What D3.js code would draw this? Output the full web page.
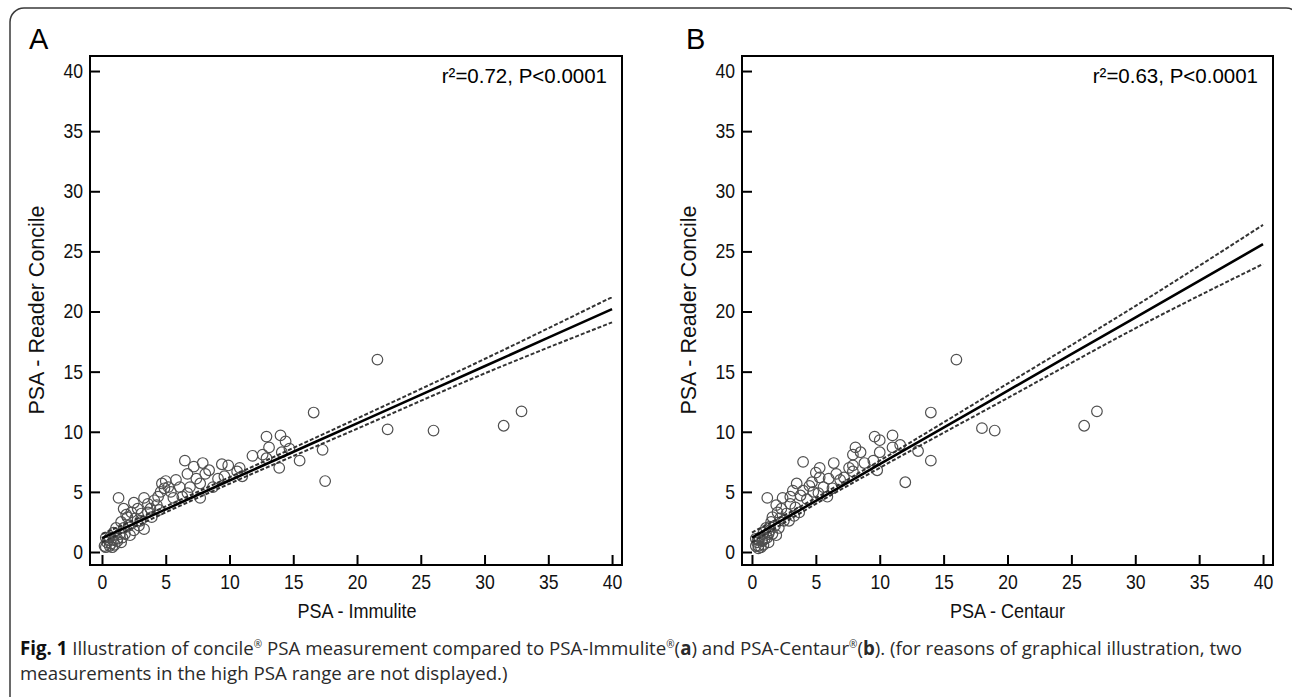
<!DOCTYPE html>
<html><head><meta charset="utf-8">
<script src="https://cdn.jsdelivr.net/npm/d3@7"></script>
<style>
html,body{margin:0;padding:0;background:#fff;}
svg{display:block;}
.tk text{font-family:"Liberation Sans",Arial,sans-serif;}
</style></head>
<body>
<svg id="chart" width="1292" height="697"></svg>
<script>
// ---------- data ----------
const xTicks = [0,5,10,15,20,25,30,35,40];
const yTicks = [0,5,10,15,20,25,30,35,40];
const panelLabels = ["A","B"];
const xTitles = ["PSA - Immulite","PSA - Centaur"];
const yTitle = "PSA - Reader Concile";
const statTexts = ["r\u00B2=0.72, P<0.0001","r\u00B2=0.63, P<0.0001"];

// Panel A: PSA-Immulite (x) vs Reader Concile (y)
const pointsA = [
 [21.6,16.0],[22.4,10.2],[26.0,10.1],[31.5,10.5],[32.9,11.7],[16.6,11.6],[17.3,8.5],[17.5,5.9],
 [15.5,7.6],[14.0,9.7],[14.4,9.2],[12.9,9.6],[13.1,8.7],[11.8,8.0],[12.6,8.1],[14.1,8.3],[14.7,8.6],
 [12.9,7.8],[13.9,7.0],[10.8,7.0],[9.9,7.2],[11.0,6.3],[10.6,6.7],
 [6.5,7.6],[7.9,7.4],[7.2,7.1],[6.7,6.5],[8.1,6.5],[5.8,6.0],[4.7,5.7],[5.2,5.4],[6.1,5.4],[6.9,5.4],
 [7.7,5.7],[9.1,6.1],[4.6,5.0],[5.4,5.0],[6.7,4.9],[7.7,4.5],[8.7,5.4],[9.6,6.3],[5.0,5.9],[4.9,5.3],
 [6.3,4.6],[7.4,6.1],[8.4,6.8],[9.4,7.3],[5.6,4.5],[4.4,4.6],
 [1.3,4.5],[3.3,4.5],[2.5,4.1],[3.6,4.0],[1.7,3.6],[2.8,3.6],[3.8,3.6],[2.0,2.9],[3.0,2.6],[3.3,1.9],
 [2.1,2.2],[2.5,1.8],[1.6,1.2],[1.2,0.9],[0.7,0.7],[0.3,0.4],[4.1,4.3],[3.1,3.2],[2.3,3.3],[1.9,3.1],
 [1.5,2.5],[1.1,2.0],[0.9,1.6],[2.6,2.8],[3.6,3.3],[4.3,3.9],[1.4,1.5],[0.6,1.2],[0.4,0.8],[0.8,0.4],
 [1.0,0.6],[1.8,1.5],[2.2,1.4],[0.5,1.0],[0.2,0.5],[1.2,1.1],[0.9,1.0],[0.6,0.5],[1.5,0.8],[1.7,2.0],
 [2.9,2.2],[3.9,2.9],[4.5,3.5],[0.3,1.2]
];
// Panel B: PSA-Centaur (x) vs Reader Concile (y)
const pointsB = [
 [16.0,16.0],[26.0,10.5],[27.0,11.7],[18.0,10.3],[19.0,10.1],[14.0,11.6],[14.0,7.6],[13.0,8.4],
 [12.0,5.8],[11.0,9.7],[11.0,8.7],[9.6,9.6],[10.0,9.3],[10.0,8.3],[9.5,7.6],[8.1,8.7],[8.5,8.3],
 [7.9,8.1],[7.9,7.2],[7.9,6.7],[9.8,6.8],[4.0,7.5],[5.3,7.0],[6.4,7.4],[11.6,8.9],
 [3.5,5.7],[4.7,5.8],[5.3,6.2],[6.0,6.1],[6.9,6.0],[5.6,5.4],[4.0,5.1],[3.2,5.1],[4.8,5.0],[6.3,5.3],
 [5.2,4.9],[4.5,5.5],[3.8,4.7],[5.0,6.6],[6.6,6.5],[7.2,6.2],[7.6,7.0],[8.8,7.4],[5.9,4.6],[4.3,4.4],[3.0,4.6],
 [1.2,4.5],[2.4,4.5],[3.0,4.0],[1.9,3.9],[2.3,3.6],[3.4,3.7],[1.6,2.9],[2.2,2.8],[1.8,2.2],[1.4,1.8],
 [1.2,1.2],[0.8,0.9],[0.5,0.5],[2.7,3.2],[2.0,3.3],[1.5,2.5],[1.1,2.0],[0.9,1.6],[2.5,2.6],[3.3,3.0],
 [1.3,1.5],[0.6,1.2],[0.4,0.8],[0.7,0.4],[0.9,0.6],[1.6,1.5],[1.9,1.4],[0.5,1.0],[0.3,0.5],[1.0,1.1],
 [0.8,1.0],[0.5,0.3],[1.3,0.8],[1.4,2.1],[2.1,2.0],[2.9,2.6],[3.7,3.3],[0.3,1.1]
];
// regression fit and 95% CI lines, read at x positions
const fitX = [0,5,10,20,30,40];
const fitA = [1.15,3.55,5.95,10.7,15.45,20.2];
const upperA = [1.5,3.8,6.22,11.1,16.05,21.2];
const lowerA = [0.8,3.3,5.68,10.25,14.85,19.1];
const fitB = [1.2,4.25,7.3,13.4,19.5,25.6];
const upperB = [1.62,4.5,7.6,14.0,20.45,27.2];
const lowerB = [0.8,4.0,7.0,12.8,18.6,23.95];

// ---------- drawing ----------
const svg = d3.select("#chart");
svg.append("rect").attr("x",10).attr("y",8).attr("width",1290).attr("height",720)
  .attr("rx",14).attr("fill","none").attr("stroke","#3a3a3a").attr("stroke-width",1.5);

const SX = 0.88; // horizontal compression of original plot text
const panels = [
  {left:90,right:622,xmin:-0.94,points:pointsA,fit:fitA,up:upperA,lo:lowerA,label:panelLabels[0],xt:xTitles[0],st:statTexts[0],labX:29,ytX:37},
  {left:742,right:1273,xmin:-0.78,points:pointsB,fit:fitB,up:upperB,lo:lowerB,label:panelLabels[1],xt:xTitles[1],st:statTexts[1],labX:686,ytX:689}
];
const plotTop=56, plotBottom=565;

panels.forEach(p=>{
  const x = d3.scaleLinear().domain([p.xmin,40.78]).range([p.left,p.right]);
  const y = d3.scaleLinear().domain([-1.08,41.25]).range([plotBottom,plotTop]);
  const g = svg.append("g");

  const xa = g.append("g").attr("class","tk").attr("transform",`translate(0,${plotBottom})`)
    .call(d3.axisBottom(x).tickValues(xTicks).tickSize(-10).tickSizeOuter(0).tickPadding(10));
  const ya = g.append("g").attr("class","tk").attr("transform",`translate(${p.left},0)`)
    .call(d3.axisLeft(y).tickValues(yTicks).tickSize(-10).tickSizeOuter(0).tickPadding(7));
  [xa,ya].forEach(a=>{
    a.select(".domain").remove();
    a.selectAll(".tick line").attr("stroke","#000").attr("stroke-width",2);
    a.selectAll(".tick text").attr("fill","#111").attr("font-size",20);
  });
  xa.selectAll(".tick text").attr("transform",`scale(${SX},1)`);
  ya.selectAll(".tick text").attr("x",-7/SX).attr("transform",`scale(${SX},1)`);

  g.append("rect").attr("x",p.left).attr("y",plotTop).attr("width",p.right-p.left).attr("height",plotBottom-plotTop)
    .attr("fill","none").attr("stroke","#000").attr("stroke-width",2);

  g.append("g").selectAll("circle").data(p.points).join("circle")
    .attr("cx",d=>x(d[0])).attr("cy",d=>y(d[1])).attr("r",5.3)
    .attr("fill","none").attr("stroke","#505050").attr("stroke-width",1.2);

  const line = arr => d3.line().x((d,i)=>x(fitX[i])).y(d=>y(d)).curve(d3.curveMonotoneX)(arr);
  g.append("path").attr("d",line(p.up)).attr("fill","none").attr("stroke","#333").attr("stroke-width",2).attr("stroke-dasharray","4,2");
  g.append("path").attr("d",line(p.lo)).attr("fill","none").attr("stroke","#333").attr("stroke-width",2).attr("stroke-dasharray","4,2");
  g.append("path").attr("d",line(p.fit)).attr("fill","none").attr("stroke","#000").attr("stroke-width",2.6);

  g.append("text").attr("x",p.labX).attr("y",49).attr("font-family","Liberation Sans, Arial, sans-serif")
    .attr("font-size",29).attr("fill","#000").text(p.label);
  g.append("text").attr("x",p.right-15).attr("y",83).attr("text-anchor","end")
    .attr("font-family","Liberation Sans, Arial, sans-serif").attr("font-size",20.5).attr("fill","#000").text(p.st);
  g.append("text").attr("transform",`translate(${(x(0)+x(40))/2},618) scale(${SX},1)`).attr("text-anchor","middle")
    .attr("font-family","Liberation Sans, Arial, sans-serif").attr("font-size",20.5).attr("fill","#111").text(p.xt);
  g.append("text").attr("transform",`translate(${p.ytX+7},310) rotate(-90)`).attr("text-anchor","middle")
    .attr("font-family","Liberation Sans, Arial, sans-serif").attr("font-size",21.5).attr("fill","#111").text(yTitle);
});

const capSize = 18.7;
const cap = svg.append("text").attr("x",20).attr("y",655).attr("font-family","Open Sans, sans-serif")
  .attr("font-size",capSize).attr("fill","#2a2a2a");
const reg = () => cap.append("tspan").attr("font-size",10).attr("dy",-7).text("\u00AE");
cap.append("tspan").attr("font-weight","bold").attr("fill","#111").text("Fig. 1");
cap.append("tspan").text(" Illustration of concile");
reg();
cap.append("tspan").attr("dy",7).text(" PSA measurement compared to PSA-Immulite");
reg();
cap.append("tspan").attr("dy",7).text("(");
cap.append("tspan").attr("font-weight","bold").text("a");
cap.append("tspan").text(") and PSA-Centaur");
reg();
cap.append("tspan").attr("dy",7).text("(");
cap.append("tspan").attr("font-weight","bold").text("b");
cap.append("tspan").text("). (for reasons of graphical illustration, two");
svg.append("text").attr("x",20).attr("y",680).attr("font-family","Open Sans, sans-serif")
  .attr("font-size",capSize).attr("fill","#2a2a2a").text("measurements in the high PSA range are not displayed.)");
</script>
</body></html>
